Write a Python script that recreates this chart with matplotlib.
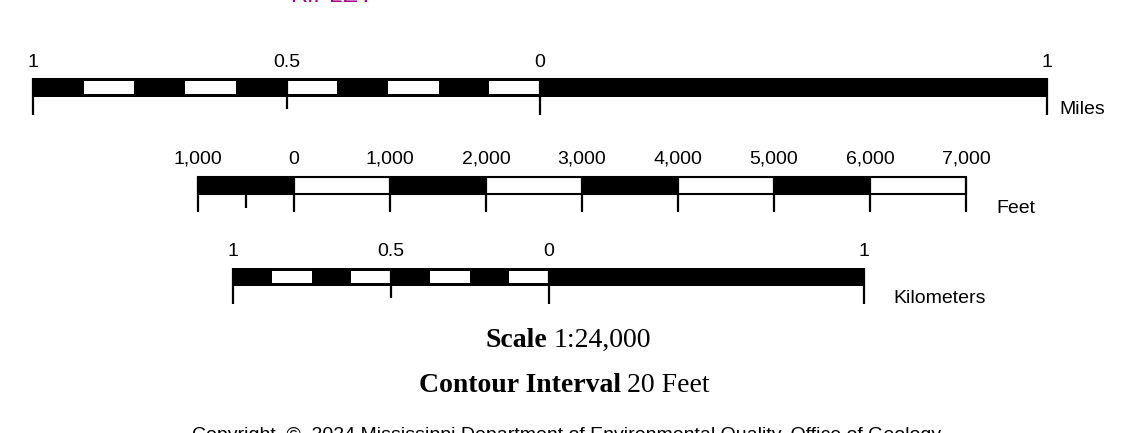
import matplotlib.pyplot as plt
from matplotlib.patches import Rectangle

W, H = 1142, 433

# Miles scale (units: miles, left part is 1 mile split in tenths)
mile_label_pos = [-1, -0.5, 0, 1]
mile_labels = ['1', '0.5', '0', '1']
mile_long_ticks = [-1, 0, 1]
mile_short_ticks = [-0.5]
mile_cell = 0.1
mile_hollow = [-0.9, -0.7, -0.5, -0.3, -0.1]

# Feet scale (units: feet)
feet_label_pos = [-1000, 0, 1000, 2000, 3000, 4000, 5000, 6000, 7000]
feet_labels = ['1,000', '0', '1,000', '2,000', '3,000', '4,000', '5,000', '6,000', '7,000']
feet_long_ticks = [-1000, 0, 1000, 2000, 3000, 4000, 5000, 6000, 7000]
feet_short_ticks = [-500]
feet_cell = 1000
feet_black = [-1000, 1000, 3000, 5000]

# Kilometers scale (units: km, left part split in eighths)
km_label_pos = [-1, -0.5, 0, 1]
km_labels = ['1', '0.5', '0', '1']
km_long_ticks = [-1, 0, 1]
km_short_ticks = [-0.5]
km_cell = 0.125
km_hollow = [-0.875, -0.625, -0.375, -0.125]

LABEL_FS = 14
SERIF = 'Liberation Serif'
SANS = 'Liberation Sans'

fig = plt.figure(figsize=(W / 100, H / 100), dpi=100)
fig.patch.set_facecolor('white')

# background axes in pixel coordinates for the free text
bg = fig.add_axes([0, 0, 1, 1])
bg.set_xlim(0, W)
bg.set_ylim(H, 0)
bg.axis('off')


def bar_axes(px_left, px_right, px_top, u0, u1):
    # y data = pixel offset below the top edge of the bar
    ax = fig.add_axes([px_left / W, 1 - (px_top + 45) / H,
                       (px_right - px_left) / W, 75 / H])
    ax.set_xlim(u0, u1)
    ax.set_ylim(45, -30)
    ax.axis('off')
    return ax


def labels(ax, pos, text, base):
    for p, s in zip(pos, text):
        ax.text(p, base, s, ha='center', va='baseline', fontsize=LABEL_FS,
                family=SANS, clip_on=False)


# ---- Miles ----
ax = bar_axes(33, 1047, 78, -1, 1)
ax.add_patch(Rectangle((-1, 0), 2, 19, fc='black', ec='none'))
for x in mile_hollow:
    ax.add_patch(Rectangle((x, 3), mile_cell, 13, fc='white', ec='none'))
ax.vlines(mile_long_ticks, 0, 37, color='black', lw=1.6, clip_on=False)
ax.vlines(mile_short_ticks, 0, 31, color='black', lw=1.6, clip_on=False)
labels(ax, mile_label_pos, mile_labels, -11)
ax.annotate('Miles', xy=(1, 36), xytext=(12, 0), textcoords='offset pixels',
            va='baseline', fontsize=LABEL_FS, family=SANS)

# ---- Feet ----
ax = bar_axes(198, 966, 177, -1000, 7000)
ax.add_patch(Rectangle((-1000, 0), 8000, 16.5, fc='white', ec='black', lw=1.5,
                       clip_on=False))
for x in feet_black:
    ax.add_patch(Rectangle((x, 0), feet_cell, 16.5, fc='black', ec='none'))
ax.vlines(feet_long_ticks, 0, 35, color='black', lw=1.6, clip_on=False)
ax.vlines(feet_short_ticks, 0, 31, color='black', lw=1.6, clip_on=False)
labels(ax, feet_label_pos, feet_labels, -13)
ax.annotate('Feet', xy=(7000, 36), xytext=(30, 0), textcoords='offset pixels',
            va='baseline', fontsize=LABEL_FS, family=SANS)

# ---- Kilometers ----
ax = bar_axes(233, 864, 268, -1, 1)
ax.add_patch(Rectangle((-1, 0), 2, 18, fc='black', ec='none'))
for x in km_hollow:
    ax.add_patch(Rectangle((x, 3), km_cell, 12, fc='white', ec='none'))
ax.vlines(km_long_ticks, 0, 36, color='black', lw=1.6, clip_on=False)
ax.vlines(km_short_ticks, 0, 30, color='black', lw=1.6, clip_on=False)
labels(ax, km_label_pos, km_labels, -12)
ax.annotate('Kilometers', xy=(1, 35), xytext=(29, 0), textcoords='offset pixels',
            va='baseline', fontsize=LABEL_FS, family=SANS)

# ---- text block ----
# title above is cropped in the reference, only its bottom edge shows
bg.text(290, 2, 'RIPLEY', color='#a5008c', fontsize=17, family=SANS,
        ha='left', va='baseline')

bg.text(547, 347, 'Scale', fontweight='bold', fontsize=20, family=SERIF,
        ha='right', va='baseline')
bg.text(554, 347, '1:24,000', fontsize=20, family=SERIF,
        ha='left', va='baseline')
bg.text(621, 392, 'Contour Interval', fontweight='bold', fontsize=20,
        family=SERIF, ha='right', va='baseline')
bg.text(627, 392, '20 Feet', fontsize=20, family=SERIF,
        ha='left', va='baseline')

# copyright line is cut by the bottom edge in the reference
bg.text(567, 440, 'Copyright  \u00a9  2024 Mississippi Department of Environmental '
        'Quality, Office of Geology', fontsize=14, family=SANS,
        ha='center', va='baseline')

fig.savefig('out.png', dpi=100)
